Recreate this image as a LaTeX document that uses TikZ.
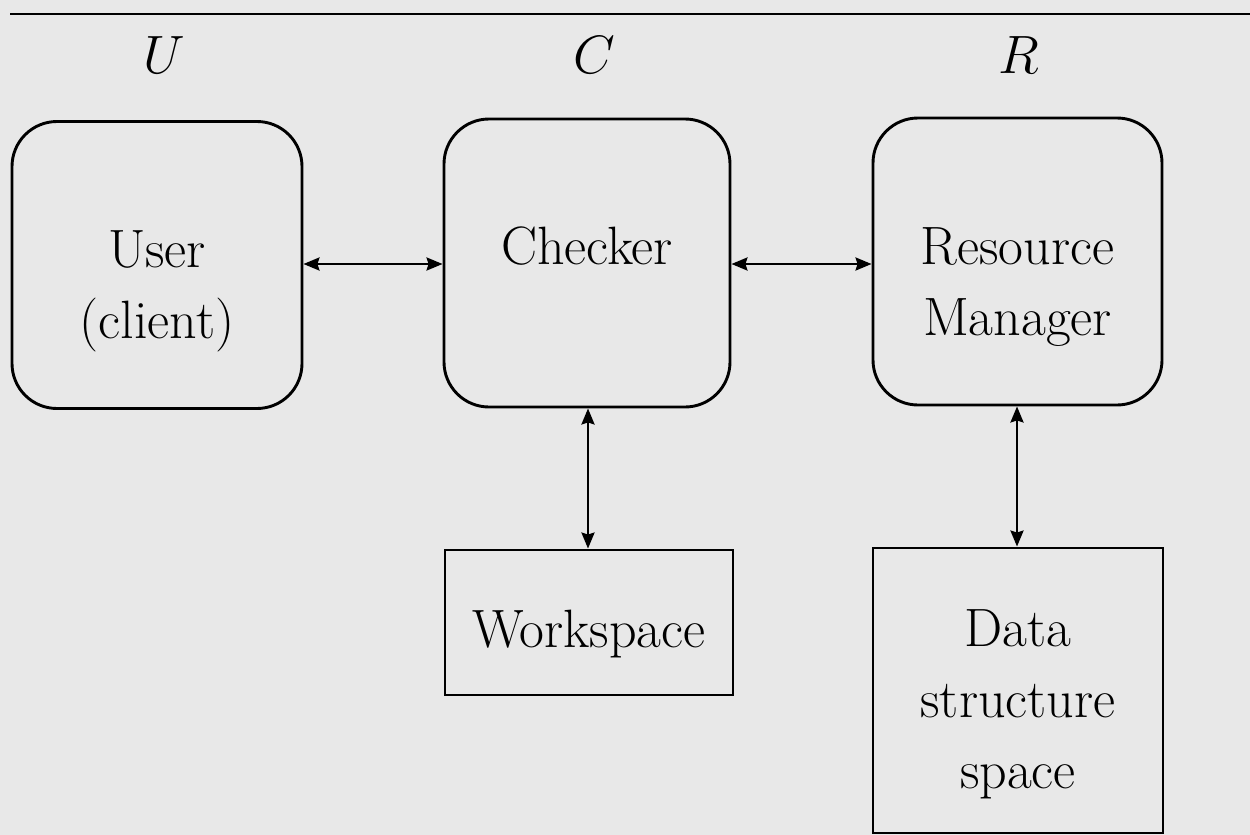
\documentclass[tikz,border=0pt]{standalone}
\DeclareFontShape{OML}{cmm}{m}{it}{<->cmmi12}{}
\usetikzlibrary{arrows.meta}
\definecolor{paper}{RGB}{232,232,232}
\tikzset{
  bigfont/.style={font=\fontsize{54}{71}\selectfont},
  roundbox/.style={draw, line width=2.9pt, rounded corners=45pt, inner sep=0pt},
  sqbox/.style={draw, line width=2.9pt, inner sep=0pt},
  lbl/.style={bigfont, align=center, inner sep=0pt},
  link/.style={line width=2.6pt, {Stealth[length=16pt,width=13pt,inset=2pt]}-{Stealth[length=16pt,width=13pt,inset=2pt]}}
}
\begin{document}
\begin{tikzpicture}[x=1pt,y=-1pt]
\fill[paper] (0,0) rectangle (1250,835);
\useasboundingbox (0,0) rectangle (1250,835);
\coordinate (ruleL) at (10,14);
\coordinate (ruleR) at (1250,14);
\draw[line width=2.9pt] (ruleL) -- (ruleR);
% column headers
\node[lbl, anchor=base] (hu) at (164,73) {$U$};
\node[lbl, anchor=base] (hc) at (594,73) {$C$};
\node[lbl, anchor=base] (hr) at (1019,73) {$R$};
% boxes
\node[roundbox, minimum width=290pt, minimum height=287pt] (user) at (157,265) {};
\node[roundbox, minimum width=286pt, minimum height=288pt] (checker) at (587,263) {};
\node[roundbox, minimum width=289pt, minimum height=287pt] (rm) at (1017.5,261.5) {};
\node[sqbox, minimum width=288pt, minimum height=145pt] (ws) at (589,622.5) {};
\node[sqbox, minimum width=290pt, minimum height=285pt] (ds) at (1018,690.5) {};
% texts (base anchor = last line's baseline)
\node[lbl, anchor=base] (tuser) at (157,338) {User\\(client)};
\node[lbl, anchor=base] (tchecker) at (587,264) {Checker};
\node[lbl, anchor=base] (trm) at (1017.5,335) {Resource\\Manager};
\node[lbl, anchor=base] (tws) at (589,647) {Workspace};
\node[lbl, anchor=base] (tds) at (1018,788) {Data\\structure\\space};
% connectors
\draw[link] (user.east |- 0,264) -- (checker.west |- 0,264);
\draw[link] (checker.east |- 0,264) -- (rm.west |- 0,264);
\draw[link] (checker.south -| 588,0) -- (ws.north -| 588,0);
\draw[link] (rm.south -| 1017,0) -- (ds.north -| 1017,0);
\end{tikzpicture}
\end{document}
